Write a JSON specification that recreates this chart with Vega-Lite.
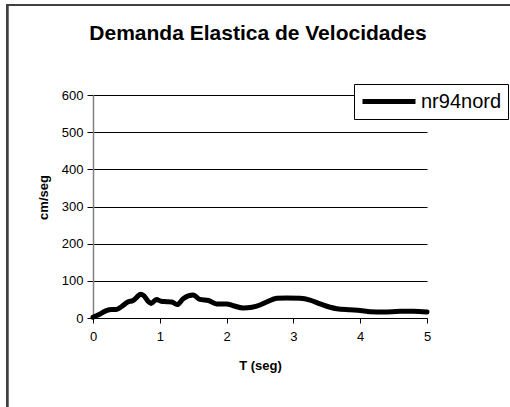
{
  "$schema": "https://vega.github.io/schema/vega-lite/v6.json",
  "autosize": {"type": "none"},
  "padding": {"left": 93, "top": 95, "right": 83, "bottom": 89},
  "width": 334,
  "height": 223,
  "background": "white",
  "config": {
    "view": {"stroke": null},
    "font": "Liberation Sans, Arial, sans-serif"
  },
  "title": {
    "text": "Demanda Elastica de Velocidades",
    "font": "Liberation Sans, Arial, sans-serif",
    "fontSize": 21,
    "fontWeight": "bold",
    "color": "#000000",
    "anchor": "middle",
    "baseline": "alphabetic",
    "offset": -57,
    "dx": -2
  },
  "resolve": {"axis": {"x": "independent", "y": "independent"}},
  "data": {
    "values": [
      {"T": 0, "v": 2, "serie": "nr94nord"},
      {"T": 0.1, "v": 10, "serie": "nr94nord"},
      {"T": 0.2, "v": 20, "serie": "nr94nord"},
      {"T": 0.28, "v": 23, "serie": "nr94nord"},
      {"T": 0.35, "v": 23, "serie": "nr94nord"},
      {"T": 0.43, "v": 31, "serie": "nr94nord"},
      {"T": 0.52, "v": 43, "serie": "nr94nord"},
      {"T": 0.6, "v": 47, "serie": "nr94nord"},
      {"T": 0.65, "v": 55, "serie": "nr94nord"},
      {"T": 0.71, "v": 64, "serie": "nr94nord"},
      {"T": 0.76, "v": 60, "serie": "nr94nord"},
      {"T": 0.82, "v": 46, "serie": "nr94nord"},
      {"T": 0.87, "v": 39, "serie": "nr94nord"},
      {"T": 0.95, "v": 50, "serie": "nr94nord"},
      {"T": 1.02, "v": 45, "serie": "nr94nord"},
      {"T": 1.1, "v": 44, "serie": "nr94nord"},
      {"T": 1.18, "v": 43, "serie": "nr94nord"},
      {"T": 1.26, "v": 36, "serie": "nr94nord"},
      {"T": 1.35, "v": 52, "serie": "nr94nord"},
      {"T": 1.5, "v": 62, "serie": "nr94nord"},
      {"T": 1.6, "v": 50, "serie": "nr94nord"},
      {"T": 1.73, "v": 47, "serie": "nr94nord"},
      {"T": 1.85, "v": 38, "serie": "nr94nord"},
      {"T": 2.0, "v": 38, "serie": "nr94nord"},
      {"T": 2.1, "v": 33, "serie": "nr94nord"},
      {"T": 2.25, "v": 27, "serie": "nr94nord"},
      {"T": 2.38, "v": 29, "serie": "nr94nord"},
      {"T": 2.5, "v": 35, "serie": "nr94nord"},
      {"T": 2.6, "v": 43, "serie": "nr94nord"},
      {"T": 2.75, "v": 53, "serie": "nr94nord"},
      {"T": 2.9, "v": 54, "serie": "nr94nord"},
      {"T": 3.1, "v": 53, "serie": "nr94nord"},
      {"T": 3.25, "v": 48, "serie": "nr94nord"},
      {"T": 3.4, "v": 38, "serie": "nr94nord"},
      {"T": 3.55, "v": 29, "serie": "nr94nord"},
      {"T": 3.65, "v": 25, "serie": "nr94nord"},
      {"T": 3.85, "v": 22, "serie": "nr94nord"},
      {"T": 4.0, "v": 20, "serie": "nr94nord"},
      {"T": 4.15, "v": 17, "serie": "nr94nord"},
      {"T": 4.35, "v": 16, "serie": "nr94nord"},
      {"T": 4.6, "v": 18, "serie": "nr94nord"},
      {"T": 4.8, "v": 18, "serie": "nr94nord"},
      {"T": 5.0, "v": 16, "serie": "nr94nord"}
    ]
  },
  "layer": [
    {
      "mark": {"type": "line", "strokeWidth": 5, "interpolate": "monotone", "strokeJoin": "round", "strokeCap": "round"},
      "encoding": {
        "x": {
          "field": "T", "type": "quantitative",
          "scale": {"domain": [0, 5], "nice": false, "zero": false},
          "axis": {
            "title": "T (seg)",
            "values": [0, 1, 2, 3, 4, 5],
            "format": "d",
            "grid": false,
            "domainColor": "#000000",
            "domainWidth": 1,
            "tickColor": "#000000",
            "tickSize": 5,
            "labelPadding": 7,
            "labelFont": "Liberation Sans, Arial, sans-serif",
            "labelFontSize": 13,
            "labelColor": "#000000",
            "labelFlush": false,
            "labelOverlap": false,
            "titleFont": "Liberation Sans, Arial, sans-serif",
            "titleFontSize": 13,
            "titleFontWeight": "bold",
            "titleColor": "#000000",
            "titleY": 47,
            "titleBaseline": "middle"
          }
        },
        "y": {
          "field": "v", "type": "quantitative",
          "scale": {"domain": [0, 600], "nice": false},
          "axis": {
            "title": "cm/seg",
            "values": [0, 100, 200, 300, 400, 500, 600],
            "grid": true,
            "gridColor": "#000000",
            "gridWidth": 1,
            "gridOpacity": 1,
            "domainColor": "#808080",
            "domainWidth": 1.5,
            "tickColor": "#000000",
            "tickSize": 6,
            "labelPadding": 4,
            "labelFont": "Liberation Sans, Arial, sans-serif",
            "labelFontSize": 13,
            "labelColor": "#000000",
            "labelFlush": false,
            "labelOverlap": false,
            "titleFont": "Liberation Sans, Arial, sans-serif",
            "titleFontSize": 13,
            "titleFontWeight": "bold",
            "titleColor": "#000000",
            "titleAngle": -90,
            "titleX": -50,
            "titleY": 102,
            "titleAlign": "center",
            "titleBaseline": "middle"
          }
        },
        "color": {
          "field": "serie", "type": "nominal",
          "scale": {"range": ["#000000"]},
          "legend": {
            "title": null,
            "orient": "none",
            "legendX": 261,
            "legendY": -11,
            "direction": "vertical",
            "strokeColor": "#000000",
            "fillColor": "#ffffff",
            "padding": 6,
            "symbolType": "stroke",
            "symbolSize": 2809,
            "symbolStrokeWidth": 5,
            "clipHeight": 23,
            "labelFont": "Liberation Sans, Arial, sans-serif",
            "labelFontSize": 20,
            "labelColor": "#000000",
            "labelOffset": 3,
            "labelLimit": 200
          }
        }
      }
    },
    {
      "mark": {"type": "rect", "fill": null, "stroke": "#404040", "strokeWidth": 2, "clip": false},
      "encoding": {
        "x": {"datum": -1.287, "type": "quantitative", "axis": null},
        "x2": {"datum": 9},
        "y": {"datum": 842, "type": "quantitative", "axis": null},
        "y2": {"datum": -400}
      }
    }
  ]
}
